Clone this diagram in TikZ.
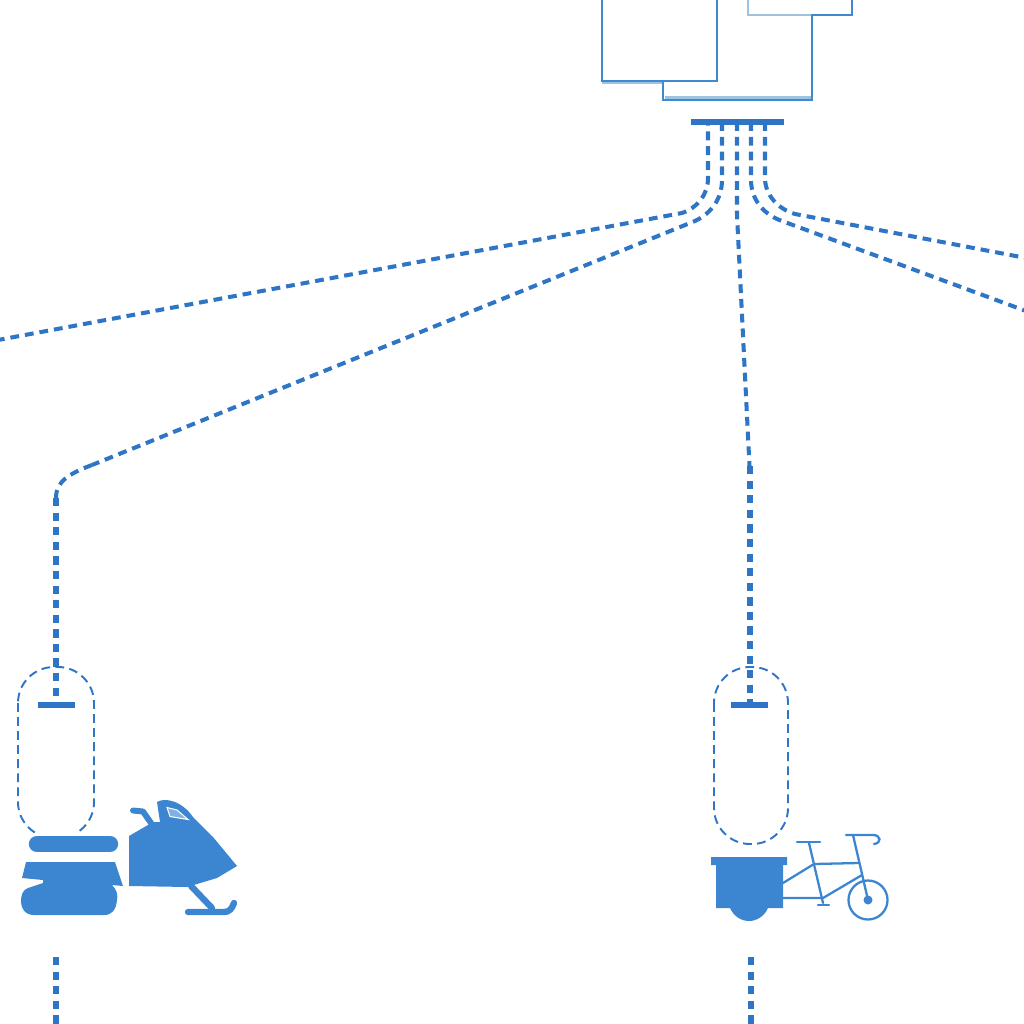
\documentclass[tikz,border=0pt]{standalone}
\definecolor{lineblue}{HTML}{2F75C6}
\definecolor{fillblue}{HTML}{3C85D0}
\definecolor{edgeblue}{HTML}{4088CF}
\definecolor{paleblue}{HTML}{9CC3E0}
\tikzset{
  px/.style={x=0.02cm,y=-0.02cm},
  sheet/.style={draw=edgeblue,line width=1.5pt,fill=white},
  link/.style={draw=lineblue,line width=2.3pt,dash pattern=on 5pt off 3.4pt},
  linkthick/.style={draw=lineblue,line width=3.1pt,dash pattern=on 4.7pt off 3.6pt},
  pill/.style={draw=lineblue,line width=1.1pt,dash pattern=on 5pt off 3pt,rounded corners=0.72cm},
  bar/.style={draw=lineblue,line width=3.2pt},
  icon/.style={fill=fillblue,draw=none},
  thin bike/.style={draw=fillblue,line width=1.3pt,line cap=round},
}
\begin{document}
\begin{tikzpicture}[px]
\useasboundingbox (0,0) rectangle (1024,1024);
\path[clip] (0,0) rectangle (1024,1024);
% sheets
\draw[sheet] (663,-10) rectangle (812,100);
\draw[paleblue,line width=1.2pt] (664.5,97.5) -- (810.5,97.5);
\draw[sheet] (602,-10) rectangle (717,81);
\draw[paleblue,line width=0.9pt] (602,83) -- (662,83);
\draw[sheet] (748,-10) rectangle (852,15);
\draw[paleblue,line width=1.5pt] (748,-10) -- (748,15) -- (811,15);
% top bar and its anchors
\coordinate (t1) at (708,122);
\coordinate (t2) at (722,122);
\coordinate (t3) at (737,122);
\coordinate (t4) at (751,122);
\coordinate (t5) at (765,122);
\coordinate (barL) at (691,122);
\coordinate (barR) at (784,122);
\coordinate (endL) at (-2,340);
\coordinate (endR1) at (1026,311);
\coordinate (endR2) at (1026,258);
\coordinate (snowTop) at (56,705);
\coordinate (bikeTop) at (750,705);
\coordinate (snowA) at (56,957);
\coordinate (snowB) at (56,1026);
\coordinate (bikeA) at (751,957);
\coordinate (bikeB) at (751,1026);
% connectors
\draw[link,dash phase=3pt] (t1) -- (708,178) .. controls (708,195) and (697,208) .. (682,213) -- (endL);
\draw[link] (t2) -- (722,180) .. controls (722,198) and (712,213) .. (695,221) -- (92,465);
\draw[link] (92,465) .. controls (68,474) and (56,482) .. (56,498);
\draw[linkthick] (56,498) -- (snowTop);
\draw[link] (t3) -- (737,215) -- (749.5,466);
\draw[linkthick] (750,466) -- (bikeTop);
\draw[link] (t4) -- (751,180) .. controls (751,198) and (762,214) .. (782,221) -- (endR1);
\draw[link] (t5) -- (765,178) .. controls (765,195) and (778,209) .. (795,214) -- (endR2);
\draw[bar] (barL) -- (barR);
% pills
\draw[pill] (18,667) rectangle (94,838);
\draw[pill] (714,667) rectangle (788,844);
\draw[bar] (38,705) -- (75,705);
\draw[bar] (731,705) -- (768,705);
% lower stubs
\draw[linkthick] (snowA) -- (snowB);
\draw[linkthick] (bikeA) -- (bikeB);
% snowmobile
\fill[white] (25,833) rectangle (122,855);
\draw[fillblue,line width=9.3pt,line cap=round] (37,844) -- (110,844);
\fill[icon] (26,862) -- (115,862) -- (123,886) -- (112,885)
  .. controls (117,890) and (118,895) .. (117,900)
  .. controls (116,910) and (112,915) .. (104,915) -- (34,915)
  .. controls (25,915) and (21,908) .. (21,902)
  .. controls (21,894) and (23,890) .. (28,888) -- (43,883) -- (43,880) -- (22,878) -- cycle;
\fill[icon] (129,836) -- (148,825) -- (152,822) -- (160,822) -- (157,802)
  .. controls (165,797) and (182,801) .. (193,817)
  -- (213,837) -- (237,866) -- (217,878) -- (187,887) -- (129,886) -- cycle;
\draw[fillblue,line width=3.4pt,line cap=round,line join=round] (133,810.5) -- (143,811.5) -- (151,823);
\draw[fillblue,line width=3.6pt,line cap=round,line join=round] (191,886) -- (212,908);
\draw[fillblue,line width=3.6pt,line cap=round] (188,912) -- (224,912) .. controls (229,912) and (232,909) .. (234,903);
\draw[white,line width=0.6pt,fill=fillblue!65!white] (167,807.5) -- (177,810) -- (188,819.5) -- (170,816.5) -- cycle;
% cargo bike
\fill[icon] (711,857) -- (787,857) -- (787,865) -- (783,865) -- (783,908) -- (768,908)
  .. controls (764,917) and (756,921) .. (749,921)
  .. controls (742,921) and (734,917) .. (730,908) -- (716,908) -- (716,865) -- (711,865) -- cycle;
\draw[thin bike] (783,883) -- (814,864) -- (859,863);
\draw[thin bike] (783,898) -- (823,898) -- (862,875);
\draw[thin bike] (809,843) -- (823,903);
\draw[thin bike] (797,842) -- (820,842);
\draw[thin bike] (818,905) -- (829,905);
\draw[thin bike] (853,835) -- (868,900);
\draw[thin bike] (846,835) -- (873,835) .. controls (881,835) and (882,843) .. (874,844);
\draw[thin bike] (868,900) circle[radius=19.5];
\fill[icon] (868,900) circle[radius=4.5];
\end{tikzpicture}
\end{document}
